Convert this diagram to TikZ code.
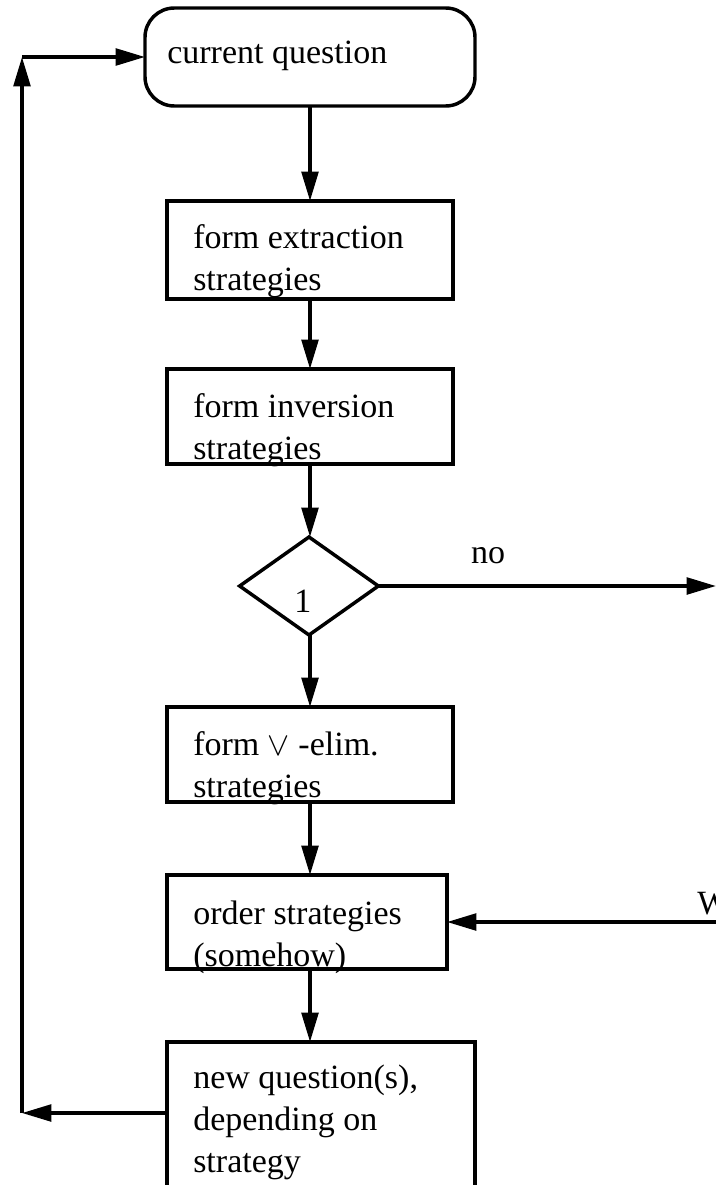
\documentclass[tikz,border=0pt]{standalone}
\usepackage{fontspec}
\setmainfont{Liberation Serif}
\usetikzlibrary{arrows.meta,shapes.geometric}
\begin{document}
\begin{tikzpicture}[x=0.75pt,y=-0.75pt,
  lw/.style={line width=2.6pt},
  stepbox/.style={draw,lw,rectangle,inner sep=0pt,outer sep=0pt,anchor=north west},
  decision/.style={draw,lw,diamond,inner sep=0pt,outer sep=0pt,minimum width=104pt,minimum height=73.5pt},
  txt/.style={anchor=base west,inner sep=0pt,font=\fontsize{25.5}{31.5}\selectfont},
  arr/.style={lw,-{Triangle[length=22pt,width=12.5pt]}}]
\useasboundingbox (0,0) rectangle (716,1185);

% boxes
\node[stepbox,rounded corners=22pt,minimum width=247.5pt,minimum height=73.5pt] (cq) at (145,8) {};
\node[stepbox,minimum width=214.5pt,minimum height=73.5pt] (fe) at (167,201) {};
\node[stepbox,minimum width=214.5pt,minimum height=71.25pt] (fi) at (167,369) {};
\node[decision] (d1) at (309,586) {};
\node[stepbox,minimum width=214.5pt,minimum height=71.25pt] (fv) at (167,707) {};
\node[stepbox,minimum width=210pt,minimum height=70.5pt] (os) at (167,875) {};
\node[stepbox,minimum width=231pt,minimum height=118.5pt] (nq) at (167,1042) {};

% texts
\node[txt] (tcq) at (167,63) {current question};
\node[txt] (tfe) at (193,248) {\begin{tabular}[t]{@{}l@{}}form extraction\\strategies\end{tabular}};
\node[txt] (tfi) at (193,417) {\begin{tabular}[t]{@{}l@{}}form inversion\\strategies\end{tabular}};
\node[txt] (td1) at (294,612) {1};
\node[txt] (tfv) at (193,755) {\begin{tabular}[t]{@{}l@{}}form $\vee$\ -elim.\\strategies\end{tabular}};
\node[txt] (tos) at (193,924) {\begin{tabular}[t]{@{}l@{}}order strategies\\(somehow)\end{tabular}};
\node[txt] (tnq) at (193,1088) {\begin{tabular}[t]{@{}l@{}}new question(s),\\depending on\\strategy\end{tabular}};
\node[txt,anchor=base] (tno) at (488,563) {no};
\node[txt] (tw) at (697,914) {W};

% free ends
\coordinate (noend) at (716,586);
\coordinate (wend) at (716,922);
\coordinate (rl) at (22,1113);
\coordinate (ru) at (22,57);

% connectors
\draw[arr] (cq.south) -- (fe.north);
\draw[arr] (fe.south) -- (fi.north);
\draw[arr] (fi.south) -- (fi.south |- d1.north);
\draw[arr] (fi.south |- d1.south) -- (fv.north);
\draw[arr] (d1.east) -- (noend);
\draw[arr] (fv.south) -- (fv.south |- os.north);
\draw[arr] (wend) -- (os.east);
\draw[arr] (fv.south |- os.south) -- (fv.south |- nq.north);
\draw[arr] (nq.west |- rl) -- (rl);
\draw[arr] (rl) -- (ru);
\draw[arr] (ru) -- (cq.west);
\end{tikzpicture}
\end{document}
